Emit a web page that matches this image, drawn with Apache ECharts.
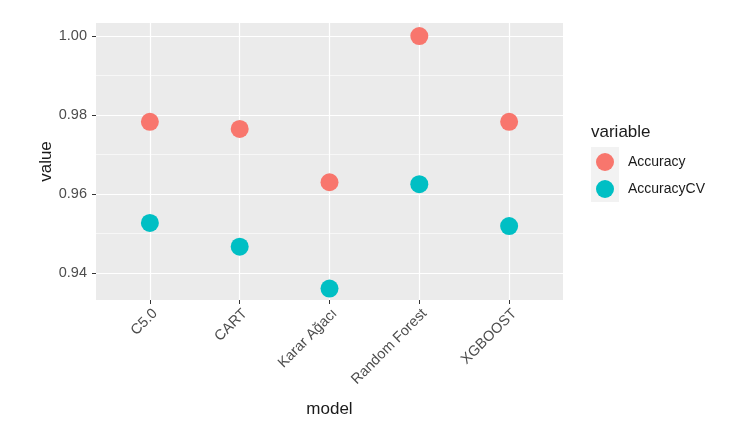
<!DOCTYPE html>
<html>
<head>
<meta charset="utf-8">
<script src="https://cdn.jsdelivr.net/npm/echarts@6/dist/echarts.min.js"></script>
<style>html,body{margin:0;padding:0;background:#fff}#c{width:740px;height:430px}</style>
</head>
<body>
<div id="c"></div>
<script>
const models = ['C5.0', 'CART', 'Karar Ağacı', 'Random Forest', 'XGBOOST'];
const accuracy = [0.9783, 0.9765, 0.9630, 1.0000, 0.9783];
const accuracyCV = [0.9527, 0.9467, 0.9361, 0.9625, 0.9519];
const yMajorTicks = [0.94, 0.96, 0.98, 1.00];
const yMinorTicks = [0.95, 0.97, 0.99];
const xTicks = [1, 2, 3, 4, 5];

const font = 'Liberation Sans, Arial, sans-serif';
const chart = echarts.init(document.getElementById('c'), null, {renderer: 'canvas'});

const toPts = arr => arr.map((v, i) => [i + 1, v]);

chart.setOption({
  animation: false,
  backgroundColor: '#ffffff',
  title: {
    text: 'variable', left: 586, top: 119,
    textStyle: {fontFamily: font, fontSize: 17, fontWeight: 'normal', color: '#1a1a1a'}
  },
  graphic: [{
    type: 'rect', left: 591, top: 147, shape: {width: 28, height: 55},
    style: {fill: '#F2F2F2'}, z: -1, silent: true
  }],
  legend: {
    orient: 'vertical', left: 591, top: 148,
    itemWidth: 18, itemHeight: 18, itemGap: 9,
    icon: 'circle',
    textStyle: {fontFamily: font, fontSize: 14, color: '#1a1a1a', padding: [0, 0, 0, 9]},
    data: ['Accuracy', 'AccuracyCV']
  },
  grid: {
    left: 96, right: 177, top: 23, bottom: 130,
    show: true, backgroundColor: '#EBEBEB', borderWidth: 0
  },
  xAxis: {
    type: 'value', min: 0.4, max: 5.6,
    name: 'model', nameLocation: 'middle', nameGap: 101, nameMoveOverlap: false,
    nameTextStyle: {fontFamily: font, fontSize: 17, color: '#1a1a1a'},
    axisLine: {show: false},
    axisTick: {show: true, customValues: xTicks, length: 4, lineStyle: {color: '#333333', width: 1}},
    axisLabel: {
      customValues: xTicks, rotate: 45, margin: 6, verticalAlign: 'top',
      fontFamily: font, fontSize: 14.5, color: '#4D4D4D',
      formatter: v => models[Math.round(v) - 1]
    },
    splitLine: {show: true, lineStyle: {color: '#ffffff', width: 1.2}}
  },
  yAxis: [{
    type: 'value', min: 0.9332, max: 1.0033,
    name: 'value', nameLocation: 'middle', nameGap: 41, nameRotate: 90, nameMoveOverlap: false,
    nameTextStyle: {fontFamily: font, fontSize: 17, color: '#1a1a1a'},
    axisLine: {show: false},
    axisTick: {show: true, customValues: yMajorTicks, length: 4, lineStyle: {color: '#333333', width: 1}},
    axisLabel: {
      customValues: yMajorTicks, margin: 9,
      fontFamily: font, fontSize: 14.5, color: '#4D4D4D',
      formatter: v => v.toFixed(2)
    },
    splitLine: {show: true, lineStyle: {color: '#ffffff', width: 1.2}}
  }, {
    type: 'value', min: 0.9332, max: 1.0033, position: 'left',
    axisLine: {show: false},
    axisTick: {show: false, customValues: yMinorTicks},
    axisLabel: {show: false, customValues: yMinorTicks},
    splitLine: {show: true, lineStyle: {color: '#ffffff', width: 0.6}}
  }],
  series: [{
    name: 'Accuracy', type: 'scatter', yAxisIndex: 0,
    symbol: 'circle', symbolSize: 18,
    itemStyle: {color: '#F8766D', opacity: 1},
    data: toPts(accuracy), z: 3
  }, {
    name: 'AccuracyCV', type: 'scatter', yAxisIndex: 0,
    symbol: 'circle', symbolSize: 18,
    itemStyle: {color: '#00BFC4', opacity: 1},
    data: toPts(accuracyCV), z: 3
  }]
});
</script>
</body>
</html>
